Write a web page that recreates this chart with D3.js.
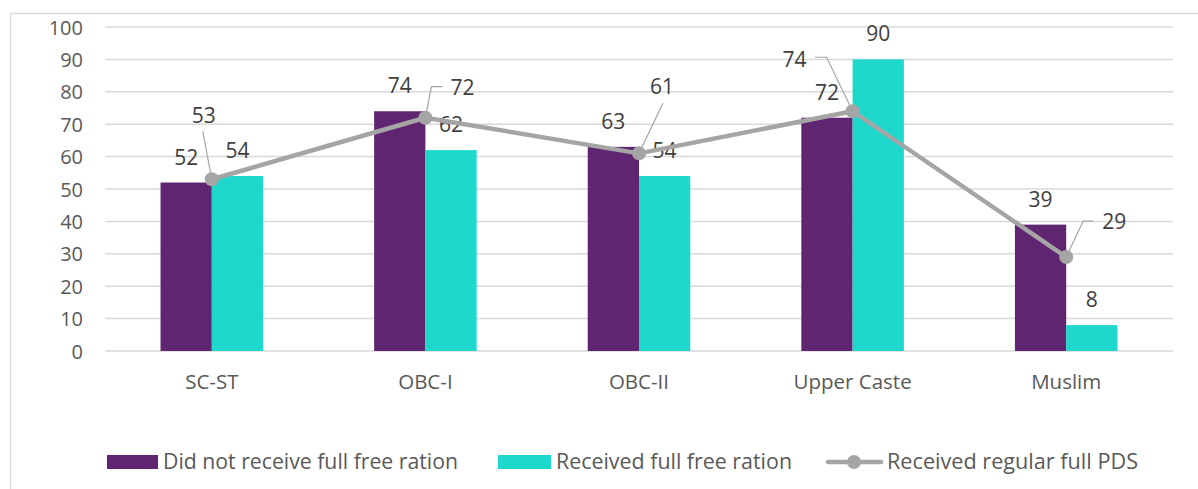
<!DOCTYPE html>
<html>
<head>
<meta charset="utf-8">
<script src="https://cdn.jsdelivr.net/npm/d3@7/dist/d3.min.js"></script>
<style>
  html, body { margin: 0; padding: 0; background: #ffffff; }
  svg { display: block; font-family: "Open Sans", "Noto Sans", sans-serif; }
</style>
</head>
<body>
<svg id="chart" width="1198" height="489"></svg>
<script>
// ---- data ----
const categories = ["SC-ST", "OBC-I", "OBC-II", "Upper Caste", "Muslim"];
const didNotReceive = [52, 74, 63, 72, 39];
const receivedFull = [54, 62, 54, 90, 8];
const regularPDS = [53, 72, 61, 74, 29];
const yTicks = [0, 10, 20, 30, 40, 50, 60, 70, 80, 90, 100];
const seriesNames = ["Did not receive full free ration", "Received full free ration", "Received  regular full PDS"];

// ---- styling / layout ----
const colPurple = "#5f2570";
const colTeal = "#1ed8cc";
const colGray = "#a5a5a5";
const textCol = "#404040";
const axisCol = "#595959";
const gridCol = "#d9d9d9";

const svg = d3.select("#chart");

// outer chart border (left + top)
svg.append("path")
  .attr("d", "M10.5,489 V13.5 H1198")
  .attr("fill", "none").attr("stroke", gridCol).attr("stroke-width", 1.5);

const x = d3.scaleBand().domain(categories).range([105, 1173]).paddingInner(0.52).paddingOuter(0.26);
const xs = d3.scaleBand().domain([0, 1]).range([0, x.bandwidth()]);
const y = d3.scaleLinear().domain([0, 100]).range([351, 27]);

// gridlines
svg.append("g").selectAll("line").data(yTicks).join("line")
  .attr("x1", 105).attr("x2", 1173)
  .attr("y1", d => y(d)).attr("y2", d => y(d))
  .attr("stroke", gridCol).attr("stroke-width", 1.5);

// y axis labels
const yAxis = d3.axisLeft(y).tickValues(yTicks).tickSize(0).tickPadding(0);
const gy = svg.append("g").attr("transform", "translate(83,0)").call(yAxis);
gy.select(".domain").remove();
gy.selectAll("text").attr("fill", axisCol).style("font-size", "20px")
  .style("font-family", "'Open Sans', sans-serif").attr("dy", "0.35em");

// x axis labels
const xAxis = d3.axisBottom(x).tickSize(0).tickPadding(0);
const gx = svg.append("g").attr("transform", "translate(0,389)").call(xAxis);
gx.select(".domain").remove();
gx.selectAll("text").attr("fill", axisCol).style("font-size", "20.5px")
  .style("font-family", "'Open Sans', sans-serif").attr("dy", "0");

// bars
const barSeries = [
  { vals: didNotReceive, color: colPurple, k: 0 },
  { vals: receivedFull, color: colTeal, k: 1 }
];
barSeries.forEach(s => {
  const g = svg.append("g");
  g.selectAll("rect").data(categories).join("rect")
    .attr("x", (c) => x(c) + xs(s.k))
    .attr("width", xs.bandwidth())
    .attr("y", (c, i) => y(s.vals[i]))
    .attr("height", (c, i) => y(0) - y(s.vals[i]))
    .attr("fill", s.color);
  g.selectAll("text").data(categories).join("text")
    .attr("x", (c) => x(c) + xs(s.k) + xs.bandwidth() / 2)
    .attr("y", (c, i) => y(s.vals[i]) - 18)
    .attr("text-anchor", "middle")
    .attr("fill", textCol)
    .style("font-size", "21px")
    .text((c, i) => s.vals[i]);
});

// line series
const cx = c => x(c) + x.bandwidth() / 2;
const line = d3.line().x((d, i) => cx(categories[i])).y(d => y(d));
svg.append("path").datum(regularPDS)
  .attr("d", line).attr("fill", "none")
  .attr("stroke", colGray).attr("stroke-width", 4.5).attr("stroke-linejoin", "round");
svg.append("g").selectAll("circle").data(regularPDS).join("circle")
  .attr("cx", (d, i) => cx(categories[i])).attr("cy", d => y(d)).attr("r", 7)
  .attr("fill", colGray);

// line labels with leader lines (offsets relative to point)
const lineLabelOffsets = [
  { lx: -8, ly: -64, leader: [[-9, -48]] },
  { lx: 37, ly: -30, leader: [[17, -31], [6, -31]] },
  { lx: 23, ly: -67, leader: [[24, -50]] },
  { lx: -58, ly: -52, leader: [[-38, -54], [-26, -54]] },
  { lx: 48, ly: -35, leader: [[27, -36], [17, -36]] }
];
const lg = svg.append("g");
regularPDS.forEach((v, i) => {
  const px = cx(categories[i]), py = y(v);
  const o = lineLabelOffsets[i];
  const pts = o.leader.map(p => [px + p[0], py + p[1]]).concat([[px, py]]);
  lg.append("path").attr("d", d3.line()(pts))
    .attr("fill", "none").attr("stroke", colGray).attr("stroke-width", 1.2);
  lg.append("text")
    .attr("x", px + o.lx).attr("y", py + o.ly).attr("dy", "0.35em")
    .attr("text-anchor", "middle").attr("fill", textCol)
    .style("font-size", "21px").text(v);
});

// legend
const leg = svg.append("g").style("white-space", "pre");
leg.append("rect").attr("x", 107).attr("y", 455).attr("width", 51).attr("height", 14).attr("fill", colPurple);
leg.append("text").attr("x", 163).attr("y", 469).attr("fill", axisCol).style("font-size", "21px")
  .attr("textLength", 295).attr("lengthAdjust", "spacingAndGlyphs").text(seriesNames[0]);
leg.append("rect").attr("x", 498).attr("y", 455).attr("width", 53).attr("height", 14).attr("fill", colTeal);
leg.append("text").attr("x", 556).attr("y", 469).attr("fill", axisCol).style("font-size", "21px")
  .attr("textLength", 236).attr("lengthAdjust", "spacingAndGlyphs").text(seriesNames[1]);
leg.append("line").attr("x1", 828).attr("x2", 881).attr("y1", 462).attr("y2", 462)
  .attr("stroke", colGray).attr("stroke-width", 4.5).attr("stroke-linecap", "round");
leg.append("circle").attr("cx", 854).attr("cy", 462).attr("r", 7).attr("fill", colGray);
leg.append("text").attr("x", 887).attr("y", 469).attr("fill", axisCol).style("font-size", "21px")
  .attr("textLength", 251).attr("lengthAdjust", "spacingAndGlyphs").text(seriesNames[2]);
</script>
</body>
</html>
